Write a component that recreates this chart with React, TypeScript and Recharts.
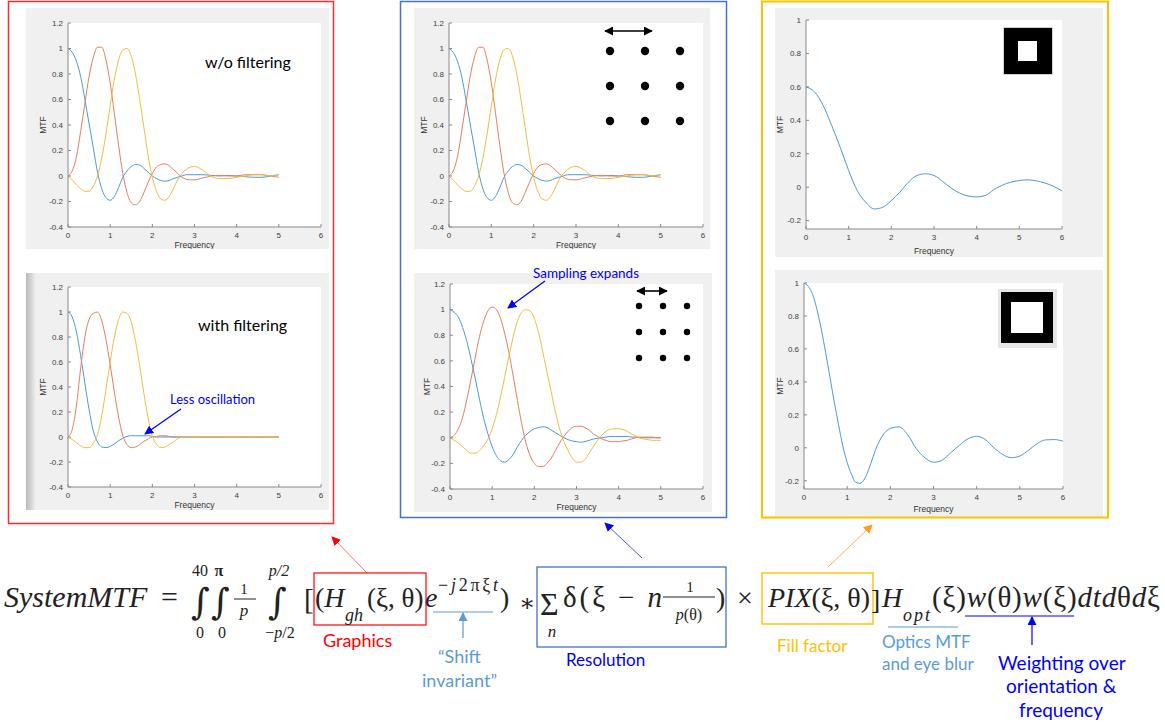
import { LineChart, Line, XAxis, YAxis, CartesianGrid } from 'recharts'

// frequency grids
const FREQ_A = [
  0, 0.1, 0.2, 0.3, 0.4, 0.5, 0.6, 0.7, 0.8, 0.9, 1, 1.1, 1.2, 1.3, 1.4, 1.5, 1.6, 1.7, 1.8, 1.9,
  2, 2.1, 2.2, 2.3, 2.4, 2.5, 2.6, 2.7, 2.8, 2.9, 3, 3.2, 3.4, 3.6, 3.8, 4, 4.2, 4.4, 4.6, 4.8, 5,
]
const FREQ_B = [
  0, 0.1, 0.2, 0.3, 0.4, 0.5, 0.6, 0.7, 0.8, 0.9, 1, 1.1, 1.2, 1.3, 1.4, 1.5, 1.6, 1.7, 1.8, 1.9,
  2, 2.1, 2.2, 2.3, 2.4, 2.5, 2.6, 2.7, 2.8, 2.9, 3, 3.1, 3.2, 3.3, 3.4, 3.5, 3.6, 3.7, 3.8, 3.9,
  4, 4.1, 4.2, 4.3, 4.4, 4.5, 4.6, 4.7, 4.8, 4.9, 5,
]
const FREQ_C = [
  0, 0.2, 0.4, 0.6, 0.8, 1, 1.2, 1.4, 1.6, 1.8, 2, 2.2, 2.4, 2.6, 2.8, 3, 3.2, 3.4, 3.6, 3.8,
  4, 4.2, 4.4, 4.6, 4.8, 5, 5.2, 5.4, 5.6, 5.8, 6,
]
const FREQ_D = [
  0, 0.1, 0.2, 0.3, 0.4, 0.5, 0.6, 0.7, 0.8, 0.9, 1, 1.1, 1.2, 1.3, 1.4, 1.5, 1.6, 1.7, 1.8, 1.9, 2,
  2.2, 2.4, 2.6, 2.8, 3, 3.2, 3.4, 3.6, 3.8, 4, 4.2, 4.4, 4.6, 4.8, 5, 5.2, 5.4, 5.6, 5.8, 6,
]

// w/o filtering (same curves in the top-middle panel)
const RAW_BLUE = [
  1.0, 0.97, 0.9, 0.78, 0.6, 0.41, 0.22, 0.03, -0.1, -0.17, -0.19, -0.16, -0.09, -0.01, 0.04, 0.075, 0.09, 0.085, 0.06, 0.03,
  0.0, -0.02, -0.035, -0.04, -0.035, -0.02, -0.01, 0.0, 0.01, 0.01, 0.01, 0.01, 0.005, 0.0, 0.005, 0.0, -0.005, -0.01, -0.01, 0.0, 0.01,
]
const RAW_RED = [
  0.0, 0.04, 0.15, 0.35, 0.57, 0.78, 0.93, 1.01, 1.01, 0.91, 0.73, 0.49, 0.24, 0.02, -0.13, -0.21, -0.225, -0.2, -0.13, -0.05,
  0.02, 0.07, 0.09, 0.095, 0.08, 0.05, 0.02, -0.01, -0.025, -0.03, -0.03, -0.015, 0.0, 0.005, 0.0, 0.0, 0.01, 0.01, 0.01, 0.0, -0.01,
]
const RAW_YELLOW = [
  0.0, -0.03, -0.07, -0.1, -0.12, -0.12, -0.08, 0.0, 0.14, 0.33, 0.55, 0.76, 0.91, 0.99, 1.0, 0.94, 0.8, 0.6, 0.38, 0.16,
  -0.01, -0.12, -0.18, -0.19, -0.16, -0.1, -0.03, 0.02, 0.05, 0.07, 0.075, 0.045, -0.005, -0.02, -0.02, -0.01, 0.0, 0.01, 0.01, 0.0, 0.01,
]

// with filtering
const FILT_BLUE = [
  1.0, 0.96, 0.84, 0.65, 0.43, 0.22, 0.05, -0.04, -0.08, -0.085, -0.075, -0.055, -0.03, -0.01, 0.005, 0.01, 0.01, 0.01, 0.01, 0.01,
  0.005, 0, 0, 0, 0, 0, 0, 0, 0, 0, 0, 0, 0, 0, 0, 0, 0, 0, 0, 0, 0,
]
const FILT_RED = [
  0.0, 0.06, 0.25, 0.55, 0.8, 0.94, 0.99, 1.0, 0.93, 0.78, 0.58, 0.36, 0.16, 0.01, -0.06, -0.085, -0.08, -0.06, -0.035, -0.015,
  0.0, 0.005, 0.01, 0.01, 0.005, 0, 0, 0, 0, 0, 0, 0, 0, 0, 0, 0, 0, 0, 0, 0, 0,
]
const FILT_YELLOW = [
  0.0, -0.02, -0.045, -0.07, -0.085, -0.085, -0.05, 0.02, 0.17, 0.38, 0.6, 0.8, 0.94, 1.0, 0.99, 0.92, 0.77, 0.57, 0.35, 0.15,
  0.01, -0.06, -0.085, -0.08, -0.06, -0.04, -0.015, 0, 0, 0, 0, 0, 0, 0, 0, 0, 0, 0, 0, 0, 0,
]

// sampling expands
const WIDE_BLUE = [
  1.0, 0.98, 0.94, 0.86, 0.75, 0.61, 0.46, 0.3, 0.15, 0.03, -0.07, -0.14, -0.18, -0.19, -0.17, -0.13, -0.07, -0.02, 0.02, 0.05,
  0.07, 0.08, 0.085, 0.08, 0.06, 0.04, 0.02, 0.0, -0.015, -0.025, -0.03, -0.035, -0.03, -0.02, -0.01, -0.005, 0.0, 0.005, 0.01, 0.01,
  0.01, 0.01, 0.01, 0.005, 0.005, 0, 0, 0, 0, 0, 0,
]
const WIDE_RED = [
  0.0, 0.02, 0.07, 0.16, 0.3, 0.46, 0.63, 0.79, 0.91, 0.99, 1.02, 1.0, 0.93, 0.81, 0.66, 0.48, 0.29, 0.11, -0.04, -0.14,
  -0.2, -0.225, -0.225, -0.2, -0.16, -0.1, -0.04, 0.01, 0.05, 0.08, 0.09, 0.09, 0.08, 0.06, 0.03, 0.01, -0.01, -0.02, -0.03, -0.03,
  -0.03, -0.025, -0.02, -0.01, 0.0, 0.005, 0.005, 0.005, 0.005, 0.0, 0.0,
]
const WIDE_YELLOW = [
  0.0, -0.02, -0.04, -0.07, -0.1, -0.12, -0.12, -0.1, -0.06, -0.01, 0.07, 0.18, 0.32, 0.48, 0.64, 0.79, 0.91, 0.98, 1.0, 0.99,
  0.93, 0.82, 0.67, 0.51, 0.36, 0.2, 0.07, -0.03, -0.1, -0.16, -0.19, -0.19, -0.17, -0.12, -0.07, -0.02, 0.02, 0.05, 0.065, 0.07,
  0.07, 0.065, 0.05, 0.03, 0.015, 0.0, -0.01, -0.015, -0.02, -0.02, -0.02,
]

// display MTF / FT of pixel
const PIXEL_SMALL = [
  0.6, 0.57, 0.49, 0.37, 0.24, 0.1, -0.02, -0.09, -0.13, -0.12, -0.08, -0.03, 0.03, 0.07, 0.08, 0.07, 0.035, -0.005, -0.035, -0.053,
  -0.058, -0.05, -0.015, 0.012, 0.03, 0.04, 0.044, 0.038, 0.025, 0.005, -0.022,
]
const PIXEL_LARGE = [
  1.0, 0.98, 0.93, 0.84, 0.72, 0.58, 0.43, 0.28, 0.14, 0.01, -0.09, -0.16, -0.21, -0.215, -0.19, -0.13, -0.055, 0.015, 0.065, 0.1, 0.118,
  0.127, 0.08, -0.005, -0.06, -0.088, -0.075, -0.03, 0.015, 0.055, 0.07, 0.05, 0.0, -0.04, -0.06, -0.05, -0.015, 0.025, 0.048, 0.05, 0.04,
]

const X_TICKS = [0, 1, 2, 3, 4, 5, 6]
const Y_TICKS_MTF = [-0.4, -0.2, 0, 0.2, 0.4, 0.6, 0.8, 1, 1.2]
const Y_TICKS_PIX = [-0.2, 0, 0.2, 0.4, 0.6, 0.8, 1]
const PIX_TITLE = 'Display MTF/ FT of pixel'

const BLUE = '#4a9ad8'
const RED = '#e2805c'
const YELLOW = '#efbd45'

const SANS = "Lato, 'Open Sans', sans-serif"
const MATH = "'Liberation Serif', 'DejaVu Serif', serif"
const SYMB = "'DejaVu Serif', serif"
const HELV = "'Liberation Sans', Arial, sans-serif"
const YW = 26

type Curve = { color: string; freq: number[]; mtf: number[] }

const toPoints = (freq: number[], mtf: number[]) => freq.map((f, i) => ({ f, v: mtf[i] }))

const PANELS = [
  {
    key: 'raw', box: [26, 8, 329, 249], plot: [68, 23, 321, 227], yDomain: [-0.4, 1.2], yTicks: Y_TICKS_MTF,
    fOff: 1, mOff: 1,
    curves: [
      { color: BLUE, freq: FREQ_A, mtf: RAW_BLUE }, { color: RED, freq: FREQ_A, mtf: RAW_RED }, { color: YELLOW, freq: FREQ_A, mtf: RAW_YELLOW },
    ],
  },
  {
    key: 'filt', box: [26, 273, 329, 510], plot: [68, 287, 321, 487], yDomain: [-0.4, 1.2], yTicks: Y_TICKS_MTF,
    fOff: 2, mOff: 1, shade: true,
    curves: [
      { color: BLUE, freq: FREQ_A, mtf: FILT_BLUE }, { color: RED, freq: FREQ_A, mtf: FILT_RED }, { color: YELLOW, freq: FREQ_A, mtf: FILT_YELLOW },
    ],
  },
  {
    key: 'grid', box: [414, 8, 710, 249], plot: [449, 23, 703, 227], yDomain: [-0.4, 1.2], yTicks: Y_TICKS_MTF,
    fOff: 1, mOff: 1,
    curves: [
      { color: BLUE, freq: FREQ_A, mtf: RAW_BLUE }, { color: RED, freq: FREQ_A, mtf: RAW_RED }, { color: YELLOW, freq: FREQ_A, mtf: RAW_YELLOW },
    ],
  },
  {
    key: 'wide', box: [414, 273, 712, 512], plot: [450, 284, 703, 489], yDomain: [-0.4, 1.2], yTicks: Y_TICKS_MTF,
    fOff: 2, mOff: 3,
    curves: [
      { color: BLUE, freq: FREQ_B, mtf: WIDE_BLUE }, { color: RED, freq: FREQ_B, mtf: WIDE_RED }, { color: YELLOW, freq: FREQ_B, mtf: WIDE_YELLOW },
    ],
  },
  {
    key: 'pixS', box: [775, 8, 1103, 257], plot: [806, 20, 1062, 229], yDomain: [-0.25, 1], yTicks: Y_TICKS_PIX,
    fOff: 3, mOff: 0, title: PIX_TITLE,
    curves: [{ color: BLUE, freq: FREQ_C, mtf: PIXEL_SMALL }],
  },
  {
    key: 'pixL', box: [775, 270, 1103, 517], plot: [804, 283, 1063, 489], yDomain: [-0.25, 1], yTicks: Y_TICKS_PIX,
    fOff: 5, mOff: 2, title: PIX_TITLE,
    curves: [{ color: BLUE, freq: FREQ_D, mtf: PIXEL_LARGE }],
  },
]

interface PanelProps {
  box: number[]; plot: number[]; yDomain: number[]; yTicks: number[]
  curves: Curve[]; fOff: number; mOff: number; title?: string; shade?: boolean
}

function Panel({ box, plot, yDomain, yTicks, curves, fOff, mOff, title, shade }: PanelProps) {
  const [bl, bt, br, bb] = box
  const [pl, pt, pr, pb] = plot
  const w = br - bl
  const h = bb - bt
  const line = { stroke: '#8a8a8a' }
  const tick = { fontSize: 8, fill: '#404040', fontFamily: HELV }
  const lbl = { fontSize: 8.5, fill: '#333', fontFamily: HELV }
  return (
    <div style={{ position: 'absolute', left: bl, top: bt, width: w, height: h, background: '#f0f0f0' }}>
      {shade && (
        <div style={{ position: 'absolute', left: 0, top: 0, width: 10, height: h, background: 'linear-gradient(to right, #b9b9b9, #f0f0f0)' }} />
      )}
      <LineChart width={w} height={h} margin={{ top: pt - bt, right: br - pr, bottom: 0, left: pl - bl - YW }}>
        <CartesianGrid fill="#ffffff" horizontal={false} vertical={false} />
        <XAxis
          type="number" dataKey="f" domain={[0, 6]} ticks={X_TICKS} allowDataOverflow
          height={bb - pb} tickSize={-3} tickMargin={8} tick={tick} axisLine={line} tickLine={line}
          label={{ value: 'Frequency', position: 'insideBottom', offset: fOff, style: lbl }}
        />
        <XAxis
          xAxisId="top" orientation="top" type="number" dataKey="f" domain={[0, 6]} ticks={X_TICKS} allowDataOverflow
          height={0} tick={false} tickSize={-3} axisLine={line} tickLine={line}
          label={title ? { value: title, position: 'top', offset: 5, style: { ...lbl, fontWeight: 'bold', fill: '#222' } } : undefined}
        />
        <YAxis
          type="number" domain={yDomain} ticks={yTicks} allowDataOverflow width={YW}
          tickSize={-3} tickMargin={8} tick={tick} axisLine={line} tickLine={line}
          label={{ value: 'MTF', angle: -90, position: 'insideLeft', offset: mOff, style: { ...lbl, textAnchor: 'middle' } }}
        />
        <YAxis
          yAxisId="right" orientation="right" type="number" domain={yDomain} ticks={yTicks} allowDataOverflow
          width={0} tick={false} tickSize={-3} axisLine={line} tickLine={line}
        />
        {curves.map((c, i) => (
          <Line
            key={i} data={toPoints(c.freq, c.mtf)} dataKey="v" type="monotone"
            stroke={c.color} strokeWidth={1} dot={false} activeDot={false} isAnimationActive={false}
          />
        ))}
      </LineChart>
    </div>
  )
}

interface TxProps {
  x: number; y: number; fs: number; w?: number; fill?: string; font?: string
  anchor?: 'start' | 'middle' | 'end'; italic?: boolean; bold?: boolean; children: React.ReactNode
}

function Tx({ x, y, fs, w, fill = '#222', font = MATH, anchor = 'start', italic, bold, children }: TxProps) {
  return (
    <text
      x={x} y={y} fontSize={fs} fill={fill} fontFamily={font} textAnchor={anchor}
      fontStyle={italic ? 'italic' : 'normal'} fontWeight={bold ? 'bold' : 'normal'}
      textLength={w} lengthAdjust={w ? 'spacing' : undefined}
    >
      {children}
    </text>
  )
}

const I = ({ children }: { children: React.ReactNode }) => <tspan fontStyle="italic">{children}</tspan>

// one positioned run inside the equation line
interface RunProps {
  x: number; y: number; fs?: number; w?: number; italic?: boolean; font?: string; children: React.ReactNode
}

function Run({ x, y, fs = 28, w, italic, font, children }: RunProps) {
  return (
    <tspan
      x={x} y={y} fontSize={fs} fontStyle={italic ? 'italic' : 'normal'} fontFamily={font}
      textLength={w} lengthAdjust={w ? 'spacing' : undefined}
    >
      {children}
    </tspan>
  )
}

const MARKERS: [string, string][] = [
  ['hBlue', '#0000ff'], ['hBlack', '#000000'], ['hRed', '#ff0000'],
  ['hOrange', '#ff9a1a'], ['hLight', '#5b9bd5'],
]

function Dots({ xs, ys, r }: { xs: number[]; ys: number[]; r: number }) {
  return (
    <g>
      {ys.map((y) => xs.map((x) => <circle key={`${x}-${y}`} cx={x} cy={y} r={r} fill="#000" />))}
    </g>
  )
}

function Overlay() {
  return (
    <svg width={1165} height={727} style={{ position: 'absolute', left: 0, top: 0, pointerEvents: 'none' }}>
      <defs>
        {MARKERS.map(([id, c]) => (
          <marker key={id} id={id} viewBox="0 0 10 10" refX="9" refY="5" markerWidth="9" markerHeight="9"
            markerUnits="userSpaceOnUse" orient="auto-start-reverse">
            <path d="M0,0 L10,5 L0,10 z" fill={c} />
          </marker>
        ))}
      </defs>

      {/* frames */}
      <rect x={8.5} y={1.5} width={325} height={522} fill="none" stroke="#ff2a2a" strokeWidth={1.5} />
      <rect x={400.5} y={1.5} width={326} height={516} fill="none" stroke="#4472c4" strokeWidth={1.5} />
      <rect x={762} y={1.5} width={346} height={516} fill="none" stroke="#ffc000" strokeWidth={2} />

      {/* panel notes */}
      <Tx x={205} y={68} fs={16} font={SANS} fill="#000">w/o filtering</Tx>
      <Tx x={198} y={331} fs={16} font={SANS} fill="#000">with filtering</Tx>
      <Tx x={170} y={404} fs={13} font={SANS} fill="#0000ff">Less oscillation</Tx>
      <line x1={181} y1={409} x2={145} y2={434} stroke="#0000ff" strokeWidth={1.3} markerEnd="url(#hBlue)" />
      <Tx x={533} y={278} fs={13.5} font={SANS} fill="#0000ff">Sampling expands</Tx>
      <line x1={545} y1={281} x2={508} y2={308} stroke="#0000ff" strokeWidth={1.3} markerEnd="url(#hBlue)" />

      <line x1={605} y1={31} x2={652} y2={31} stroke="#000" strokeWidth={1.6} markerStart="url(#hBlack)" markerEnd="url(#hBlack)" />
      <Dots xs={[610, 645, 680]} ys={[51, 86, 121]} r={4.2} />
      <line x1={637} y1={291} x2={667} y2={291} stroke="#000" strokeWidth={1.6} markerStart="url(#hBlack)" markerEnd="url(#hBlack)" />
      <Dots xs={[639, 663, 687]} ys={[306, 332, 358]} r={3.2} />

      <rect x={1003.5} y={27.5} width={49} height={47} fill="#000" stroke="#d0d0d0" strokeWidth={1} />
      <rect x={1018} y={41} width={19} height={20} fill="#fff" />
      <rect x={998} y={289} width={59} height={59} fill="#e6e6e6" />
      <rect x={1001} y={292} width={52} height={51} fill="#000" />
      <rect x={1011} y={302} width={32} height={31} fill="#fff" />

      {/* arrows from the equation to the panels */}
      <line x1={367} y1={573} x2={332} y2={537} stroke="#ff7070" strokeWidth={1} markerEnd="url(#hRed)" />
      <line x1={642} y1={558} x2={605} y2={523} stroke="#5050ff" strokeWidth={1} markerEnd="url(#hBlue)" />
      <line x1={828} y1={567} x2={872} y2={525} stroke="#ffb060" strokeWidth={1} markerEnd="url(#hOrange)" />

      {/* equation boxes */}
      <rect x={314} y={573} width={112} height={52} fill="none" stroke="#ff0000" strokeWidth={1.2} />
      <rect x={537} y={567} width={189} height={80} fill="none" stroke="#4472c4" strokeWidth={1.3} />
      <rect x={762} y={573} width={111} height={51} fill="none" stroke="#ffc000" strokeWidth={1.4} />

      {/* equation, main line */}
      <text fontFamily={MATH} fill="#222" fontSize={28}>
        <Run x={4} y={607} fs={30} italic>SystemMTF</Run>
        <Run x={161} y={607} fs={30}>=</Run>
        <Run x={191} y={614} fs={36} font={SYMB}>∫</Run>
        <Run x={211} y={614} fs={36} font={SYMB}>∫</Run>
        <Run x={268} y={614} fs={36} font={SYMB}>∫</Run>
        <Run x={304} y={609} fs={29}>[</Run>
        <Run x={315} y={607}>(<I>H</I></Run>
        <Run x={345} y={621} fs={18} italic>gh</Run>
        <Run x={367} y={607} fs={27}>(ξ, θ)</Run>
        <Run x={425} y={607} italic>e</Run>
        <Run x={438} y={591} fs={18} w={60}>−<I>j</I>2πξ<I>t</I></Run>
        <Run x={500} y={607}>)</Run>
        <Run x={519} y={611} fs={24} font={SYMB}>∗</Run>
        <Run x={540} y={615} fs={32}>Σ</Run>
        <Run x={563} y={607} fs={29} w={99}>δ(ξ − <I>n</I></Run>
        <Run x={716} y={607}>)</Run>
        <Run x={737} y={607}>×</Run>
        <Run x={768} y={607}><I>PIX</I>(ξ, θ)</Run>
        <Run x={871} y={609} fs={28}>]</Run>
        <Run x={882} y={607} italic>H</Run>
        <Run x={903} y={621} fs={18} w={27} italic>opt</Run>
        <Run x={932} y={607} fs={29} w={228}>(ξ)<I>w</I>(θ)<I>w</I>(ξ)<I>dtd</I>θ<I>d</I>ξ</Run>
      </text>

      {/* limits and fractions */}
      <Tx x={200} y={576} fs={16} anchor="middle">40</Tx>
      <Tx x={200} y={638} fs={16} anchor="middle">0</Tx>
      <Tx x={219} y={576} fs={16} anchor="middle" bold>π</Tx>
      <Tx x={222} y={638} fs={16} anchor="middle">0</Tx>
      <Tx x={244} y={594} fs={15} anchor="middle">1</Tx>
      <line x1={234} y1={599} x2={256} y2={599} stroke="#222" strokeWidth={1} />
      <Tx x={244} y={616} fs={17} anchor="middle" italic>p</Tx>
      <Tx x={279} y={576} fs={16} anchor="middle" italic>p/2</Tx>
      <Tx x={280} y={638} fs={16} anchor="middle"><tspan>−</tspan><I>p</I><tspan>/2</tspan></Tx>
      <Tx x={552} y={637} fs={17} anchor="middle" italic>n</Tx>
      <Tx x={690} y={592} fs={15} anchor="middle">1</Tx>
      <line x1={663} y1={597} x2={715} y2={597} stroke="#222" strokeWidth={1} />
      <Tx x={689} y={620} fs={16} anchor="middle"><I>p</I>(θ)</Tx>

      {/* underlines and short arrows */}
      <line x1={433} y1={612} x2={493} y2={612} stroke="#5b9bd5" strokeWidth={1.2} />
      <line x1={463} y1={638} x2={463} y2={613} stroke="#5b9bd5" strokeWidth={1.2} markerEnd="url(#hLight)" />
      <line x1={888} y1={627} x2={958} y2={627} stroke="#5b9bd5" strokeWidth={1.2} />
      <line x1={965} y1={616} x2={1074} y2={616} stroke="#0000ff" strokeWidth={1.2} />
      <line x1={1032} y1={645} x2={1032} y2={617} stroke="#0000ff" strokeWidth={1.2} markerEnd="url(#hBlue)" />

      {/* annotation labels */}
      <Tx x={323} y={647} fs={18} font={SANS} fill="#ff0000">Graphics</Tx>
      <Tx x={438} y={663} fs={18} font={SANS} fill="#5b9bd5">“Shift</Tx>
      <Tx x={422} y={687} fs={18} font={SANS} fill="#5b9bd5">invariant”</Tx>
      <Tx x={566} y={666} fs={17} font={SANS} fill="#0000ee">Resolution</Tx>
      <Tx x={777} y={652} fs={17} font={SANS} fill="#ffc000">Fill factor</Tx>
      <Tx x={882} y={648} fs={17} font={SANS} fill="#5b9bd5">Optics MTF</Tx>
      <Tx x={882} y={670} fs={17} font={SANS} fill="#5b9bd5">and eye blur</Tx>
      <Tx x={998} y={670} fs={19} font={SANS} fill="#0000ff">Weighting over</Tx>
      <Tx x={1006} y={693} fs={19} font={SANS} fill="#0000ff">orientation &amp;</Tx>
      <Tx x={1019} y={717} fs={19} font={SANS} fill="#0000ff">frequency</Tx>
    </svg>
  )
}

export default function App() {
  return (
    <div style={{ position: 'absolute', left: 0, top: 0, width: 1165, height: 727, background: '#fff', overflow: 'hidden' }}>
      {PANELS.map(({ key, ...p }) => <Panel key={key} {...p} />)}
      <Overlay />
    </div>
  )
}
